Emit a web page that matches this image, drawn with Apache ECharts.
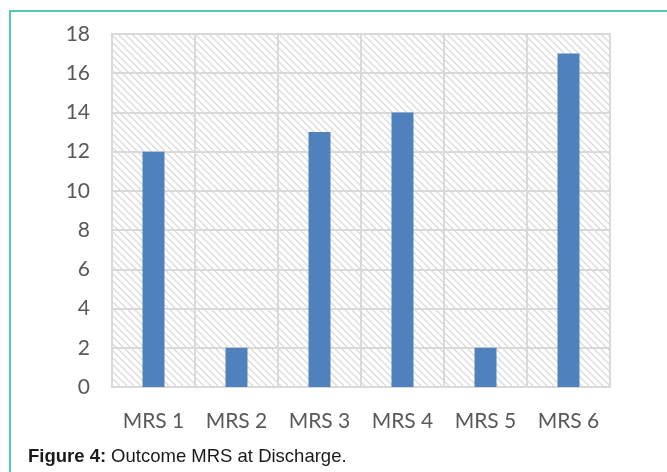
<!DOCTYPE html>
<html>
<head>
<meta charset="utf-8">
<style>
  html, body { margin: 0; padding: 0; background: #ffffff; }
  #chart { width: 667px; height: 472px; }
</style>
<script src="https://cdn.jsdelivr.net/npm/echarts@6/dist/echarts.min.js"></script>
</head>
<body>
<div id="chart"></div>
<script>
// Outcome modified Rankin Scale at discharge
const categories = ['MRS 1', 'MRS 2', 'MRS 3', 'MRS 4', 'MRS 5', 'MRS 6'];
const patientCounts = [12, 2, 13, 14, 2, 17];
const yTicks = { min: 0, max: 18, interval: 2 };

// Diagonal hatch used as the plot background
function makeHatch() {
  const size = 7;
  const c = document.createElement('canvas');
  c.width = size; c.height = size;
  const ctx = c.getContext('2d');
  ctx.fillStyle = '#ffffff';
  ctx.fillRect(0, 0, size, size);
  ctx.strokeStyle = '#dadada';
  ctx.lineWidth = 1.3;
  ctx.beginPath();
  ctx.moveTo(-1, -1); ctx.lineTo(size + 1, size + 1);
  ctx.moveTo(-1, size - 1); ctx.lineTo(1, size + 1);
  ctx.moveTo(size - 1, -1); ctx.lineTo(size + 1, 1);
  ctx.stroke();
  return c;
}

const chart = echarts.init(document.getElementById('chart'), null, { renderer: 'canvas' });
const labelFont = 'Lato, "Open Sans", sans-serif';
const captionFont = '"Liberation Sans", Arial, sans-serif';

chart.setOption({
  animation: false,
  backgroundColor: '#ffffff',
  title: {
    left: 23,
    top: 442,
    text: '{b|Figure 4:} {n|Outcome MRS at Discharge.}',
    textStyle: {
      rich: {
        b: { fontFamily: captionFont, fontWeight: 'bold', fontSize: 18.5, color: '#1a1a1a' },
        n: { fontFamily: captionFont, fontWeight: 'normal', fontSize: 18.5, color: '#1a1a1a' }
      }
    }
  },
  graphic: [{
    type: 'rect',
    silent: true,
    shape: { x: 10, y: 11, width: 720, height: 520 },
    style: { fill: 'none', stroke: '#52c8b2', lineWidth: 2 }
  }],
  grid: {
    left: 112, right: 57, top: 34, bottom: 85,
    show: true,
    backgroundColor: { image: makeHatch(), repeat: 'repeat' },
    borderColor: '#d9d9d9',
    borderWidth: 2
  },
  xAxis: {
    type: 'category',
    data: categories,
    boundaryGap: true,
    axisLine: { show: true, lineStyle: { color: '#d9d9d9', width: 2 } },
    axisTick: { show: false },
    splitLine: { show: true, interval: 0, lineStyle: { color: '#d9d9d9', width: 2 } },
    axisLabel: { color: '#595959', fontFamily: labelFont, fontSize: 21, margin: 24, interval: 0 }
  },
  yAxis: {
    type: 'value',
    min: yTicks.min, max: yTicks.max, interval: yTicks.interval,
    axisLine: { show: false },
    axisTick: { show: false },
    splitLine: { show: true, lineStyle: { color: '#d9d9d9', width: 2 } },
    axisLabel: { color: '#595959', fontFamily: labelFont, fontSize: 21, margin: 22 }
  },
  series: [{
    type: 'bar',
    data: patientCounts,
    barWidth: 22,
    itemStyle: { color: '#4f81bd' }
  }]
});
</script>
</body>
</html>
